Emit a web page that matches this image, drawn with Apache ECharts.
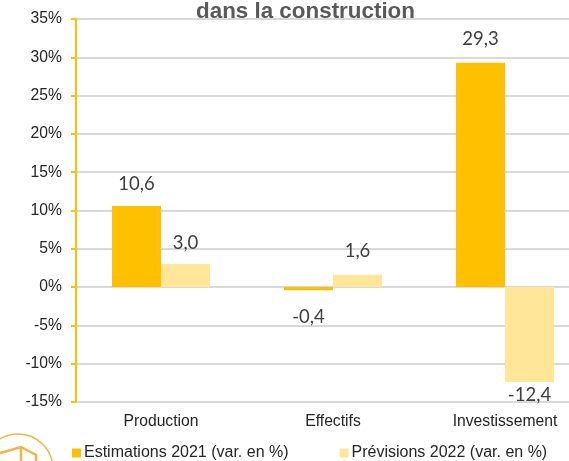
<!DOCTYPE html>
<html lang="fr">
  <head>
    <meta charset="UTF-8" />
    <title>Construction</title>
    <script src="https://cdn.jsdelivr.net/npm/echarts@6/dist/echarts.min.js"></script>
    <style>
      html, body { margin: 0; padding: 0; background: #fff; overflow: hidden; }
      /* the plot runs past the right edge of the picture, so the chart is wider than the window */
      #chart { width: 591px; height: 461px; }
    </style>
  </head>
  <body>
    <div id="chart"></div>
    <script>
      const categories = ['Production', 'Effectifs', 'Investissement'];
      const estimations = [10.6, -0.4, 29.3];
      const previsions = [3.0, 1.6, -12.4];
      const serieNames = ['Estimations 2021 (var. en %)', 'Prévisions 2022 (var. en %)'];

      const chart = echarts.init(document.getElementById('chart'));

      // negative values get their label under the bar, -12,4 sits tight against it
      const labelDistance = (v) => {
        if (v < -10) return 3;
        if (v < 0) return 17;
        if (v > 20) return 14;
        return v < 2 ? 14 : 12;
      };

      const withLabels = (values) =>
        values.map((v) => ({
          value: v,
          label: { position: v < 0 ? 'bottom' : 'top', distance: labelDistance(v) }
        }));

      const labelStyle = {
        show: true,
        fontFamily: 'Lato',
        fontSize: 18.5,
        color: '#404040',
        formatter: (p) => p.value.toFixed(1).replace('.', ',')
      };

      const logoColor = '#f1b548';

      chart.setOption({
        animation: false,
        title: {
          text: 'dans la construction',
          left: 191,
          top: -4,
          textStyle: { fontFamily: 'Liberation Sans', fontSize: 22.4, fontWeight: 'bold', color: '#595959' }
        },
        legend: {
          left: 67,
          top: 440,
          itemWidth: 9,
          itemHeight: 9,
          itemGap: 51,
          icon: 'rect',
          textStyle: { fontFamily: 'Liberation Sans', fontSize: 16, color: '#262626', padding: [0, 0, 0, -2] }
        },
        grid: { left: 75, right: 0, top: 19, bottom: 59 },
        xAxis: {
          type: 'category',
          data: categories,
          axisLine: { show: false, onZero: false },
          axisTick: { show: false },
          axisLabel: { fontFamily: 'Liberation Sans', fontSize: 15.7, color: '#262626', margin: 12 }
        },
        yAxis: {
          type: 'value',
          min: -15,
          max: 35,
          interval: 5,
          offset: -1,
          axisLine: { show: true, onZero: false, lineStyle: { color: '#ffc000', width: 2 } },
          axisTick: { show: true, length: 5, lineStyle: { color: '#ffc000', width: 2 } },
          axisLabel: { fontFamily: 'Liberation Sans', fontSize: 15.7, color: '#262626', margin: 14, padding: [2, 0, 0, 0], formatter: '{value}%' },
          splitLine: { lineStyle: { color: '#d9d9d9', width: 2 } }
        },
        series: [
          {
            name: serieNames[0],
            type: 'bar',
            data: withLabels(estimations),
            barWidth: 49,
            barGap: 0,
            itemStyle: { color: '#ffc000' },
            label: labelStyle
          },
          {
            name: serieNames[1],
            type: 'bar',
            data: withLabels(previsions),
            barWidth: 49,
            itemStyle: { color: '#ffe699' },
            label: labelStyle
          }
        ],
        // logo cut off by the bottom left corner
        graphic: [
          {
            type: 'circle',
            silent: true,
            shape: { cx: 18, cy: 469, r: 35 },
            style: { fill: 'none', stroke: logoColor, lineWidth: 1.5 }
          },
          {
            type: 'polyline',
            silent: true,
            shape: { points: [[0, 453], [21, 447], [36, 455], [36, 462]] },
            style: { fill: 'none', stroke: logoColor, lineWidth: 2.5 }
          },
          {
            type: 'line',
            silent: true,
            shape: { x1: 21, y1: 447, x2: 21, y2: 462 },
            style: { stroke: logoColor, lineWidth: 2.5 }
          }
        ]
      });
    </script>
  </body>
</html>
